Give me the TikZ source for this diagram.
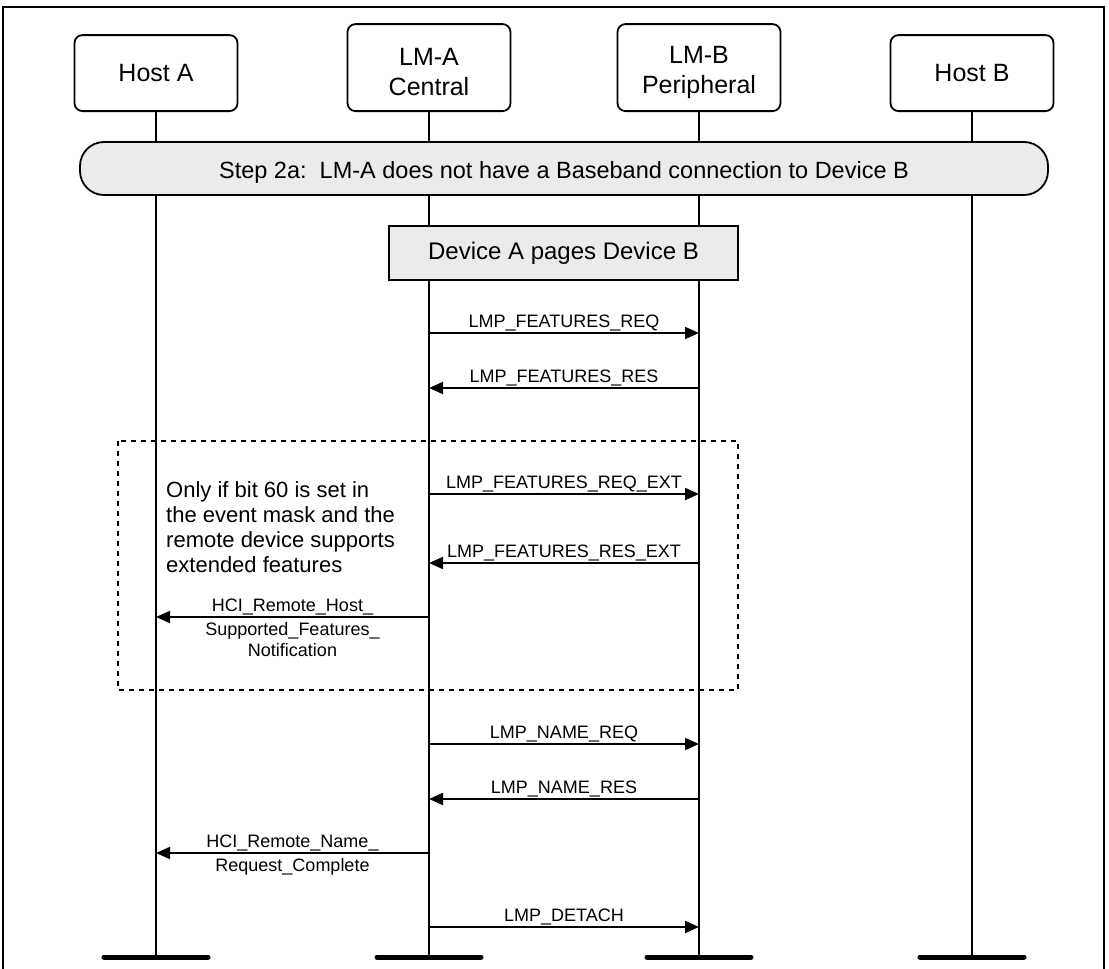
\documentclass[tikz,border=0pt]{standalone}
\usepackage{fontspec}
\setmainfont{Liberation Sans}
\usetikzlibrary{arrows.meta}

\begin{document}
\begin{tikzpicture}[
    x=1pt, y=-1pt, >={Triangle[length=14pt, width=12pt]},
    head/.style={draw, line width=1.8pt, rounded corners=8pt, fill=white, align=center, anchor=south,
                 minimum width=163pt, minimum height=76pt, font=\fontsize{25}{30}\selectfont},
    tall/.style={minimum height=87pt, text height=57pt},
    stepbar/.style={draw, line width=1.8pt, rounded corners=24pt, fill=black!8, text height=24pt,
                    minimum width=968pt, minimum height=53pt, font=\fontsize{23.5}{28}\selectfont},
    pagebox/.style={draw, line width=1.8pt, fill=black!8, minimum width=349pt, minimum height=54pt,
                    font=\fontsize{24}{28}\selectfont},
    life/.style={line width=1.8pt},
    stub/.style={line width=5pt, line cap=round},
    msg/.style={->, line width=2pt},
    lbl/.style={font=\fontsize{18}{21}\selectfont, inner sep=1pt, align=center},
    note/.style={font=\fontsize{22}{25}\selectfont, align=left, anchor=north west, inner sep=0pt},
    grp/.style={line width=2pt, dash pattern=on 5pt off 5pt},
]
\useasboundingbox (0,0) rectangle (1109,969);
% frame, open at the bottom
\draw[line width=2.2pt] (3,969) -- (3,7) -- (1104,7) -- (1104,969);

% lifeline heads
\node[head] (ha) at (156,112) {Host A};
\node[head, tall] (lma) at (429,112) {LM-A\\Central};
\node[head, tall] (lmb) at (699,112) {LM-B\\Peripheral};
\node[head] (hb) at (972,112) {Host B};

% lifelines
\coordinate (bottom) at (0,957);
\foreach \n in {ha,lma,lmb,hb} {
    \coordinate (\n end) at (\n |- bottom);
    \draw[life] (\n) -- (\n end);
    \draw[stub] ([xshift=-52pt]\n end) -- ([xshift=52pt]\n end);
}

% step 2a
\node[stepbar] (s2a) at (564,168.5) {Step 2a:\ \ LM-A does not have a Baseband connection to Device B};
\node[pagebox] (pg) at (563.5,253) {Device A pages Device B};

% optional part
\draw[grp] (118,441) rectangle (738,690);
\node[note] (cond) at (166,481) {Only if bit 60 is set in\\the event mask and the\\remote device supports\\extended features};

% LMP messages
\foreach \y/\from/\to/\txt in {
    333/lma/lmb/{LMP\_FEATURES\_REQ},
    388/lmb/lma/{LMP\_FEATURES\_RES},
    494/lma/lmb/{LMP\_FEATURES\_REQ\_EXT},
    563/lmb/lma/{LMP\_FEATURES\_RES\_EXT},
    744/lma/lmb/{LMP\_NAME\_REQ},
    799/lmb/lma/{LMP\_NAME\_RES},
    927/lma/lmb/{LMP\_DETACH}}
    \draw[msg] (\from |- 0,\y) -- (\to |- 0,\y) node[lbl, midway, above] {\txt};

% HCI events
\draw[msg] (lma |- 0,617) -- (ha |- 0,617)
    node[lbl, midway, above] {HCI\_Remote\_Host\_}
    node[lbl, midway, below=3pt] {Supported\_Features\_\\Notification};
\draw[msg] (lma |- 0,853) -- (ha |- 0,853)
    node[lbl, midway, above] {HCI\_Remote\_Name\_}
    node[lbl, midway, below=3pt] {Request\_Complete};
\end{tikzpicture}
\end{document}
